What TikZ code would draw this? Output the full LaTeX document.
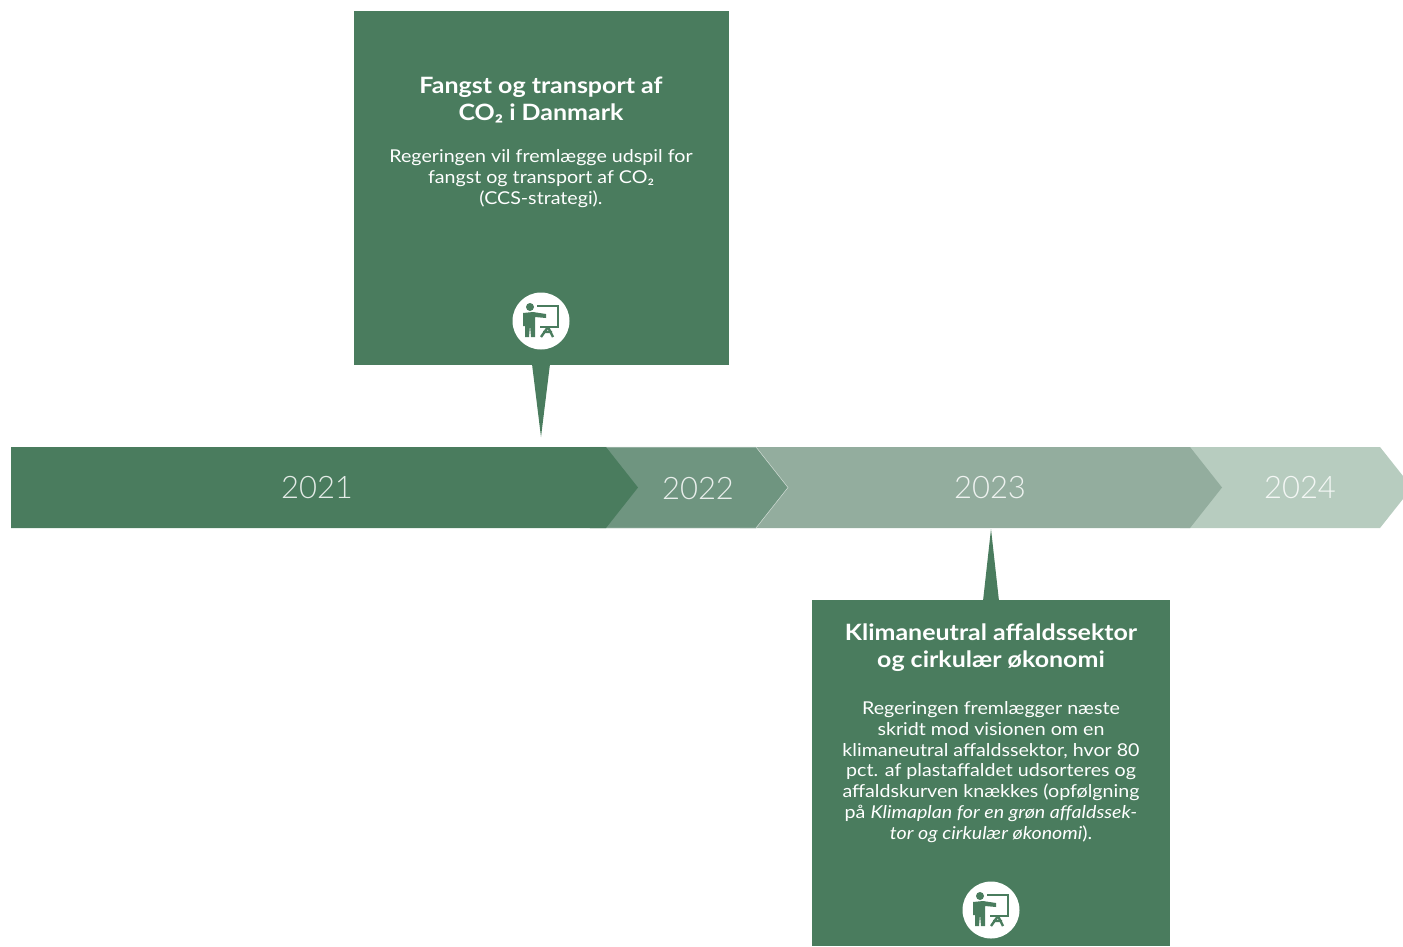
\documentclass[tikz,border=0pt]{standalone}
\usepackage{fontspec}
\setmainfont{Lato}[FakeStretch=1.11]
\newfontfamily\yearfont{Lato Light}
\definecolor{green21}{HTML}{4A7C5E}
\definecolor{green22}{HTML}{6F9580}
\definecolor{green23}{HTML}{93AD9E}
\definecolor{green24}{HTML}{B7CCBF}
\tikzset{
    yearlabel/.style={text=white, text opacity=0.85, font=\yearfont\fontsize{31}{31}\selectfont, anchor=center},
    headlabel/.style={text=white, align=center, font=\bfseries\fontsize{22.5}{27}\selectfont, anchor=center},
    bodylabel/.style={text=white, align=center, font=\fontsize{17.7}{20.7}\selectfont, anchor=center},
    panel/.style={fill=green21, draw=none, inner sep=0pt, anchor=north west},
    teacher/.pic={
        \fill[white] (0,0) circle (28.5);
        \fill[green21] (-11,-14) circle (4);
        \fill[green21] (-18,-8) -- (-8,-9) -- (5,-7) -- (5,-3) -- (-6,-4) -- (-6,16)
            -- (-10,16) -- (-11,4) -- (-12,16) -- (-16,16) -- (-16,5) -- (-18,5) -- cycle;
        \draw[green21, line width=2.2pt] (-4,-15) -- (17,-15) -- (17,6) -- (-1,6);
        \draw[green21, line width=2.4pt] (7,6) -- (0,16) (7,6) -- (12,16) (2,11) -- (11,11);
    }
}
\begin{document}
\begin{tikzpicture}[x=1pt, y=-1pt]
    \useasboundingbox (0,0) rectangle (1403,946);

    % Timeline
    \fill[green24] (1180,447) -- (1380,447) -- (1403,476) -- (1403,499) -- (1380,528) -- (1180,528) -- cycle;
    \fill[green23] (740,447) -- (1190,447) -- (1222,487.5) -- (1190,528) -- (740,528) -- cycle;
    \fill[green22, draw=white!60!green23, line width=0.5pt] (590,447) -- (756,447) -- (788,487.5) -- (756,528) -- (590,528) -- cycle;
    \fill[green21] (11,447) -- (606,447) -- (638,487.5) -- (606,528) -- (11,528) -- cycle;

    % Years
    \node[yearlabel] (y2021) at (317,488) {2021};
    \node[yearlabel] (y2022) at (698,489) {2022};
    \node[yearlabel] (y2023) at (990,488) {2023};
    \node[yearlabel] (y2024) at (1300,488) {2024};

    % Upper panel
    \node[panel, minimum width=375pt, minimum height=354pt] (ccs) at (354,11) {};
    \fill[green21] (532,364) -- (550,364) -- (541,437) -- cycle;
    \node[headlabel] (ccshead) at (541,100) {Fangst og transport af\\CO₂ i Danmark};
    \node[bodylabel] (ccsbody) at (541,178.5) {Regeringen vil fremlægge udspil for\\fangst og transport af CO₂\\(CCS-strategi).};
    \pic at (541,321) {teacher};

    % Lower panel
    \node[panel, minimum width=358pt, minimum height=346pt] (waste) at (812,600) {};
    \fill[green21] (983,601) -- (999,601) -- (991,529) -- cycle;
    \node[headlabel] (wastehead) at (991,647.5) {Klimaneutral affaldssektor\\og cirkulær økonomi};
    \node[bodylabel] (wastebody) at (991,772) {Regeringen fremlægger næste\\skridt mod visionen om en\\klimaneutral affaldssektor, hvor 80\\pct. af plastaffaldet udsorteres og\\affaldskurven knækkes (opfølgning\\på \textit{Klimaplan for en grøn affaldssek-}\\\textit{tor og cirkulær økonomi}).};
    \pic at (991,910) {teacher};

\end{tikzpicture}
\end{document}
